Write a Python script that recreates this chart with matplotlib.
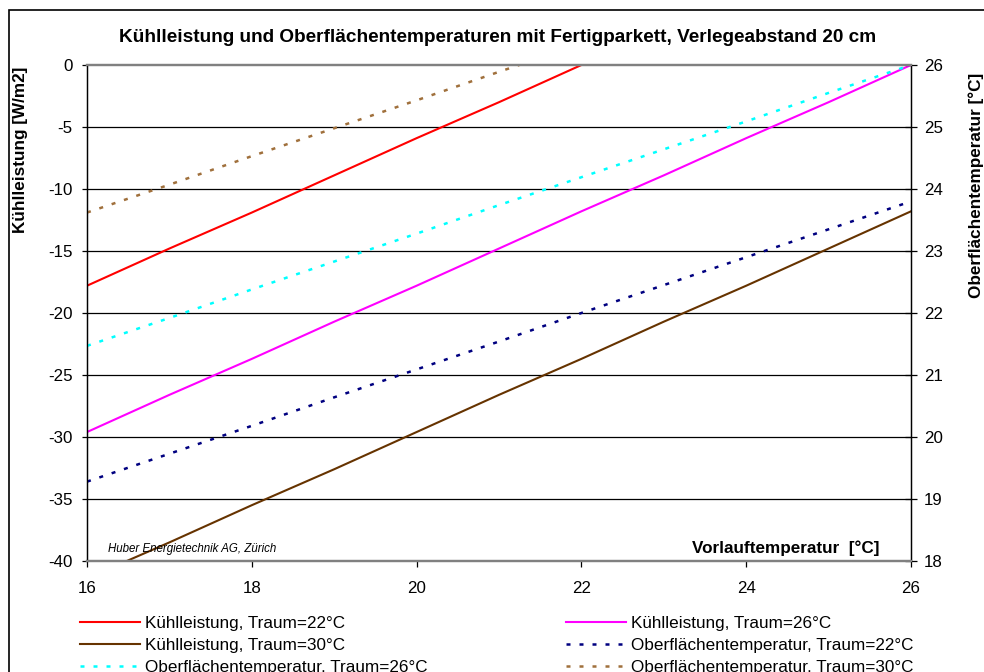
import matplotlib.pyplot as plt
from matplotlib.patches import Rectangle

plt.rcParams['font.family'] = ['Liberation Sans', 'DejaVu Sans']
plt.rcParams['axes.unicode_minus'] = False

# Vorlauftemperatur [°C]
vl = [16, 17, 18, 19, 20, 21, 22, 23, 24, 25, 26]

# Kühlleistung [W/m2]
k22 = [-17.8, -14.8, -11.9, -8.9, -5.9, -3.0, 0.0]
k26 = [-29.6, -26.6, -23.7, -20.7, -17.8, -14.8, -11.8, -8.9, -5.9, -3.0, 0.0]
k30 = [-41.4, -38.5, -35.5, -32.6, -29.6, -26.6, -23.7, -20.7, -17.8, -14.8, -11.8]

# Oberflächentemperatur [°C]
o22 = [19.28, 19.73, 20.18, 20.64, 21.09, 21.54, 22.0, 22.45, 22.90, 23.35, 23.80]
o26 = [21.47, 21.92, 22.38, 22.83, 23.28, 23.74, 24.19, 24.64, 25.09, 25.55, 26.0]
o30 = [23.62, 24.07, 24.53, 24.98, 25.43, 25.89, 26.34]

fig = plt.figure(figsize=(9.84, 6.72), dpi=100)
fig.patches.append(Rectangle((9/984, -0.1), 1.2, 1 - 10/672 + 0.1, transform=fig.transFigure,
                             fill=False, edgecolor='black', lw=1.2))

ax = fig.add_axes([87/984, 1 - 561/672, (911 - 87)/984, (561 - 65)/672])
ax2 = ax.twinx()

lw = 1.5
dash = (1.6, 3.6)
h1, = ax.plot(vl[:len(k22)], k22, color='#ff0000', lw=lw, label='Kühlleistung, Traum=22°C')
h2, = ax.plot(vl, k26, color='#ff00ff', lw=lw, label='Kühlleistung, Traum=26°C')
h3, = ax.plot(vl, k30, color='#663300', lw=lw, label='Kühlleistung, Traum=30°C')
h4, = ax2.plot(vl, o22, color='#000080', lw=1.8, dashes=dash, label='Oberflächentemperatur, Traum=22°C')
h5, = ax2.plot(vl, o26, color='#00ffff', lw=1.8, dashes=dash, label='Oberflächentemperatur, Traum=26°C')
h6, = ax2.plot(vl[:len(o30)], o30, color='#a0703c', lw=1.8, dashes=dash, label='Oberflächentemperatur, Traum=30°C')

ax.set_xlim(16, 26)
ax.set_ylim(-40, 0)
ax2.set_ylim(18, 26)
ax.set_xticks([16, 18, 20, 22, 24, 26])
ax.set_yticks(range(-40, 1, 5))
ax2.set_yticks(range(18, 27))

for y in range(-35, 0, 5):
    ax.axhline(y, color='black', lw=0.9, zorder=0)

for a in (ax, ax2):
    a.spines['top'].set_color('#808080')
    a.spines['top'].set_linewidth(1.6)
    a.spines['bottom'].set_color('#808080')
    a.spines['bottom'].set_linewidth(1.6)
    a.spines['left'].set_linewidth(0.9)
    a.spines['right'].set_linewidth(0.9)

ax.tick_params(axis='y', direction='out', length=3.8, width=0.9, labelsize=12.2, pad=6.5)
ax.tick_params(axis='x', direction='out', length=4.3, width=0.9, labelsize=12.2, pad=10)
ax2.tick_params(axis='y', direction='inout', length=8.6, width=0.9, labelsize=12.2, pad=5)

ax.set_ylabel('Kühlleistung [W/m2]', fontsize=12.3, fontweight='bold')
ax.yaxis.set_label_coords(-59/824, 1 - 85/496)
ax2.set_ylabel('Oberflächentemperatur [°C]', fontsize=12.3, fontweight='bold')
ax2.yaxis.set_label_coords(1 + 57/824, 1 - 120/496)

fig.text(498/984, 1 - 38/672, 'Kühlleistung und Oberflächentemperaturen mit Fertigparkett, Verlegeabstand 20 cm',
         ha='center', va='center', fontsize=13.7, fontweight='bold')
ax.text(108/984, 1 - 549/672, 'Huber Energietechnik AG, Zürich', transform=fig.transFigure,
        fontsize=8.3, fontstyle='italic', ha='left', va='center')
ax.text(880/984, 1 - 548/672, 'Vorlauftemperatur  [°C]', transform=fig.transFigure,
        fontsize=12.3, fontweight='bold', ha='right', va='center')

handles = [h1, h3, h5, h2, h4, h6]
leg = fig.legend(handles, [h.get_label() for h in handles], ncol=2, loc='upper left',
                 bbox_to_anchor=(80/984, 1 - 616/672), frameon=False, fontsize=12.3,
                 handlelength=3.5, handletextpad=0.3, columnspacing=8.1,
                 labelspacing=0.42, borderaxespad=0, borderpad=0)

fig.savefig('out.png', dpi=100)
